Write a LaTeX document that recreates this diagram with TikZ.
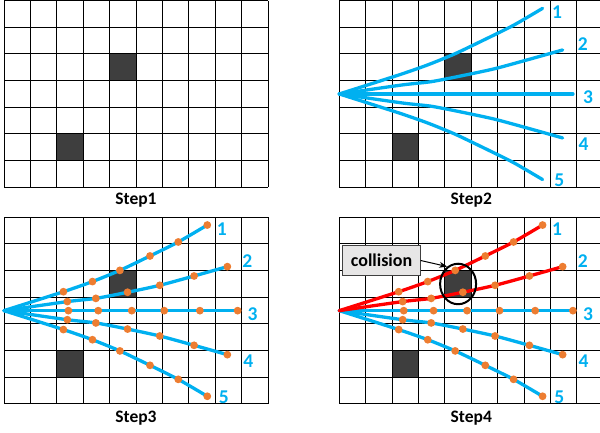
\documentclass[tikz,border=0pt]{standalone}
\usepackage{fontspec}
\setmainfont{Carlito}
\usetikzlibrary{shapes.geometric,arrows.meta}
\definecolor{rayblue}{HTML}{00B0F0}
\definecolor{dotorange}{HTML}{ED7D31}
\definecolor{rayred}{HTML}{FF0000}
\definecolor{darkcell}{RGB}{62,62,62}
\definecolor{boxgray}{HTML}{E7E6E6}
\tikzset{
  gridline/.style={black, line width=1pt},
  blocked/.style={fill=darkcell},
  bluray/.style={rayblue, line width=3.3pt, line cap=round, line join=round},
  redray/.style={rayred, line width=3.3pt, line cap=round, line join=round},
  dot/.style={circle, fill=dotorange, inner sep=0pt, minimum size=7.8pt},
  numlabel/.style={text=rayblue, font=\fontsize{19.5}{22}\selectfont\bfseries, inner sep=0pt},
  steplabel/.style={font=\fontsize{17.5}{20}\selectfont\bfseries, anchor=base, inner sep=0pt},
  collbox/.style={draw=black!75, fill=boxgray, line width=0.8pt, minimum width=77.6pt, minimum height=29.3pt, font=\fontsize{18}{21}\selectfont\bfseries, inner sep=0pt},
  collring/.style={ellipse, draw=black, line width=2pt, minimum width=36pt, minimum height=40.5pt, inner sep=0pt},
}
\newcommand\gridpanel{%
  \fill[blocked] (4,2) rectangle (5,3);
  \fill[blocked] (2,5) rectangle (3,6);
  \foreach \i in {0,...,10}{\draw[gridline] (\i,0) -- (\i,7);}
  \foreach \j in {0,...,7}{\draw[gridline] (0,\j) -- (10,\j);}
}
\newcommand\defrays[1]{%
  \coordinate (#1o) at (0,3.5);
  \coordinate (#1a1) at (2.25,2.79); \coordinate (#1a2) at (3.35,2.41); \coordinate (#1a3) at (4.39,1.99);
  \coordinate (#1a4) at (5.53,1.45); \coordinate (#1a5) at (6.6,0.925); \coordinate (#1a6) at (7.7,0.29);
  \coordinate (#1b1) at (2.4,3.16); \coordinate (#1b2) at (3.48,3.04); \coordinate (#1b3) at (4.68,2.81);
  \coordinate (#1b4) at (5.9,2.55); \coordinate (#1b5) at (7.2,2.2); \coordinate (#1b6) at (8.46,1.85);
  \coordinate (#1c1) at (2.44,3.5); \coordinate (#1c2) at (3.57,3.5); \coordinate (#1c3) at (4.84,3.5);
  \coordinate (#1c4) at (6.07,3.5); \coordinate (#1c5) at (7.42,3.5); \coordinate (#1c6) at (8.85,3.5);
  \coordinate (#1d1) at (2.4,3.84); \coordinate (#1d2) at (3.48,3.96); \coordinate (#1d3) at (4.68,4.19);
  \coordinate (#1d4) at (5.9,4.45); \coordinate (#1d5) at (7.2,4.8); \coordinate (#1d6) at (8.46,5.15);
  \coordinate (#1e1) at (2.25,4.21); \coordinate (#1e2) at (3.35,4.59); \coordinate (#1e3) at (4.39,5.01);
  \coordinate (#1e4) at (5.53,5.55); \coordinate (#1e5) at (6.6,6.075); \coordinate (#1e6) at (7.7,6.71);
}
\newcommand\drawray[3]{%
  \draw[#3] plot[smooth, tension=0.4] coordinates {(#1o) (#1#21) (#1#22) (#1#23) (#1#24) (#1#25) (#1#26)};
}
\newcommand\drawdots[2]{%
  \foreach \k in {1,...,6}{\node[dot] (#1#2\k dot) at (#1#2\k) {};}
}
\newcommand\numlabels[1]{%
  \node[numlabel] (#1n1) at (8.25,0.43) {1};
  \node[numlabel] (#1n2) at (9.22,1.63) {2};
  \node[numlabel] (#1n3) at (9.42,3.62) {3};
  \node[numlabel] (#1n4) at (9.25,5.39) {4};
  \node[numlabel] (#1n5) at (8.33,6.73) {5};
}
\begin{document}
\begin{tikzpicture}[x=1pt, y=-1pt]
\useasboundingbox (0,0) rectangle (600,432);
\begin{scope}
\clip (0,0) rectangle (600,432);
% Step 1
\begin{scope}[shift={(4,0.6)}, x=26.4pt, y=-26.67pt]
  \gridpanel
  \node[steplabel] (lab1) at (5,7.65) {Step1};
\end{scope}
% Step 2
\begin{scope}[shift={(339.3,0.6)}, x=26.4pt, y=-26.67pt]
  \gridpanel
  \defrays{p}
  \foreach \r in {a,b,c,d,e}{\drawray{p}{\r}{bluray}}
  \numlabels{p}
  \node[steplabel] (lab2) at (5,7.65) {Step2};
\end{scope}
% Step 3
\begin{scope}[shift={(4,217.3)}, x=26.4pt, y=-26.67pt]
  \gridpanel
  \defrays{q}
  \foreach \r in {a,b,c,d,e}{\drawray{q}{\r}{bluray}}
  \foreach \r in {a,b,c,d,e}{\drawdots{q}{\r}}
  \numlabels{q}
  \node[steplabel] (lab3) at (5,7.68) {Step3};
\end{scope}
% Step 4
\begin{scope}[shift={(339.3,217.3)}, x=26.4pt, y=-26.67pt]
  \gridpanel
  \defrays{s}
  \foreach \r in {c,d,e}{\drawray{s}{\r}{bluray}}
  \foreach \r in {a,b}{\drawray{s}{\r}{redray}}
  \foreach \r in {a,b,c,d,e}{\drawdots{s}{\r}}
  \numlabels{s}
  \node[collring] (ring) at (4.5,2.5) {};
  \node[collbox] (coll) at (1.6,1.62) {collision};
  \draw[black, line width=1pt, -{Stealth[length=8pt,width=6pt]}] (coll.east) -- (ring.122);
  \node[steplabel] (lab4) at (5,7.68) {Step4};
\end{scope}
\end{scope}
\end{tikzpicture}
\end{document}
